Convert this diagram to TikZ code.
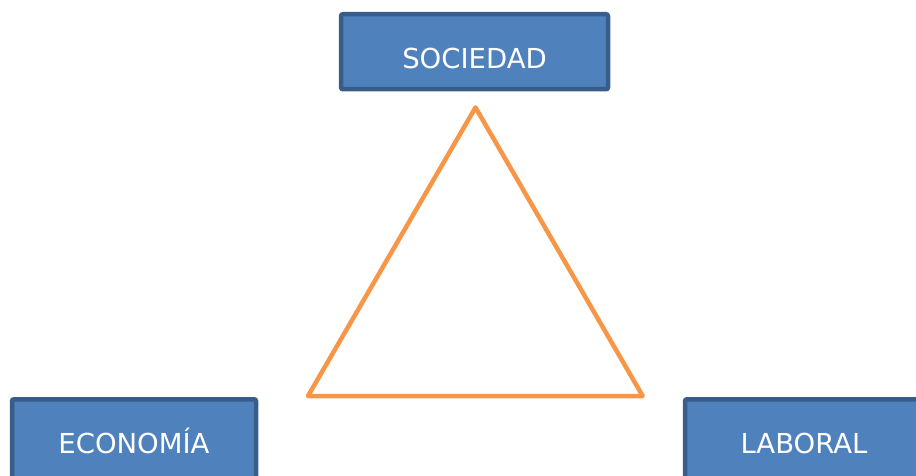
\documentclass[tikz,border=0pt]{standalone}
\usepackage{fontspec}
\setmainfont{DejaVu Sans}
\usepackage{xcolor}
\usepackage{tikz}
\definecolor{boxfill}{HTML}{4F81BD}
\definecolor{boxline}{HTML}{385D8A}
\definecolor{naranja}{HTML}{F79646}

\begin{document}
\begin{tikzpicture}[x=1pt, y=-1pt,
    caja/.style={draw=boxline, fill=boxfill, line width=4.5pt, rounded corners=2pt,
        anchor=north, inner xsep=0pt, inner ysep=0pt,
        text=white, font=\fontsize{27.5}{31}\selectfont,
        text height=54.7pt, text depth=20.3pt},
    lado/.style={draw=naranja, line width=4.5pt, line join=round, line cap=round}
]
  \useasboundingbox (0,0) rectangle (916,476);
  \clip (0,0) rectangle (916,476);

  % Kästen
  \node[caja, minimum width=267pt] (sociedad) at (474.5,12) {SOCIEDAD};
  \node[caja, minimum width=244pt, text depth=25.3pt] (economia) at (134,397) {ECONOMÍA};
  \node[caja, minimum width=238pt, text depth=25.3pt] (laboral) at (804,397) {LABORAL};

  % Dreieck
  \coordinate (arriba) at (475.5,107.5);
  \coordinate (izq) at (308,396);
  \coordinate (der) at (642.7,396);
  \draw[lado] (arriba) -- (der) -- (izq) -- cycle;

\end{tikzpicture}
\end{document}
